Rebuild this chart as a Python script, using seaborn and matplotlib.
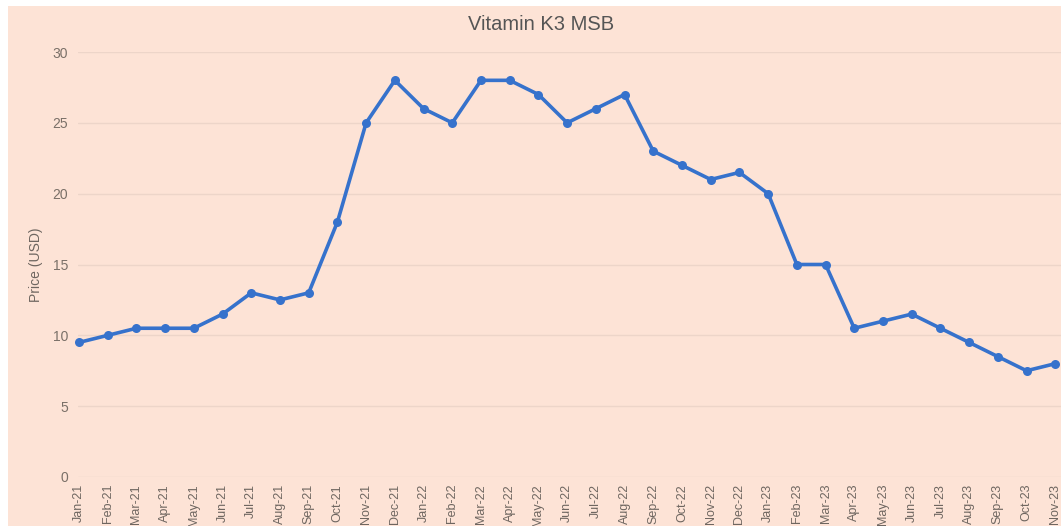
import matplotlib
matplotlib.use("Agg")
import matplotlib.pyplot as plt
import seaborn as sns
import pandas as pd
from matplotlib.patches import Rectangle

# dados do gráfico
meses = ['Jan-21', 'Feb-21', 'Mar-21', 'Apr-21', 'May-21', 'Jun-21', 'Jul-21', 'Aug-21',
         'Sep-21', 'Oct-21', 'Nov-21', 'Dec-21', 'Jan-22', 'Feb-22', 'Mar-22', 'Apr-22',
         'May-22', 'Jun-22', 'Jul-22', 'Aug-22', 'Sep-22', 'Oct-22', 'Nov-22', 'Dec-22',
         'Jan-23', 'Feb-23', 'Mar-23', 'Apr-23', 'May-23', 'Jun-23', 'Jul-23', 'Aug-23',
         'Sep-23', 'Oct-23', 'Nov-23']
precos = [9.5, 10, 10.5, 10.5, 10.5, 11.5, 13, 12.5,
          13, 18, 25, 28, 26, 25, 28, 28,
          27, 25, 26, 27, 23, 22, 21, 21.5,
          20, 15, 15, 10.5, 11, 11.5, 10.5, 9.5,
          8.5, 7.5, 8]
yticks = [0, 5, 10, 15, 20, 25, 30]

df = pd.DataFrame({'idx': range(len(meses)), 'preco': precos})

bg = '#FDE3D6'
sns.set_style("white")
plt.rcParams['font.family'] = ['Liberation Sans', 'DejaVu Sans']

fig = plt.figure(figsize=(10.61, 5.26), dpi=100, facecolor=bg)
W, H = 1061, 526
ax = fig.add_axes([78 / W, (H - 477) / H, (W - 78) / W, 425 / H])
ax.set_facecolor(bg)

# faixas brancas nas bordas (recorte da captura)
fig.add_artist(Rectangle((0, 1 - 6 / H), 1, 6 / H, transform=fig.transFigure,
                         facecolor='white', edgecolor='none', zorder=10))
fig.add_artist(Rectangle((0, 0), 8 / W, 1, transform=fig.transFigure,
                         facecolor='white', edgecolor='none', zorder=10))

sns.lineplot(data=df, x='idx', y='preco', ax=ax, color='#3672CC', linewidth=2.6,
             marker='o', markersize=6.5, markeredgewidth=0, clip_on=False, zorder=3)

ax.set_xlim(-0.035, 34.2)
ax.set_ylim(0, 30)
ax.set_yticks(yticks)
ax.set_yticklabels([str(v) for v in yticks], color='#7A7068', fontsize=10)
ax.set_xticks(range(len(meses)))
ax.set_xticklabels(meses, rotation=90, color='#6E6660', fontsize=9)
ax.tick_params(axis='x', length=0, pad=5)
ax.tick_params(axis='y', length=0, pad=7)

ax.grid(axis='y', color='#EDD5C9', linewidth=1)
ax.grid(axis='x', visible=False)
sns.despine(ax=ax, left=True, bottom=True, right=True, top=True)

ax.set_xlabel('')
ax.set_ylabel('Price (USD)', color='#6E6660', fontsize=10)
ax.yaxis.set_label_coords((43 - 78) / (W - 78), 0.5)

fig.text(541 / W, 1 - 24 / H, 'Vitamin K3 MSB', ha='center', va='center',
         fontsize=14.5, color='#555555')

fig.savefig('out.png', dpi=100, facecolor=bg)
